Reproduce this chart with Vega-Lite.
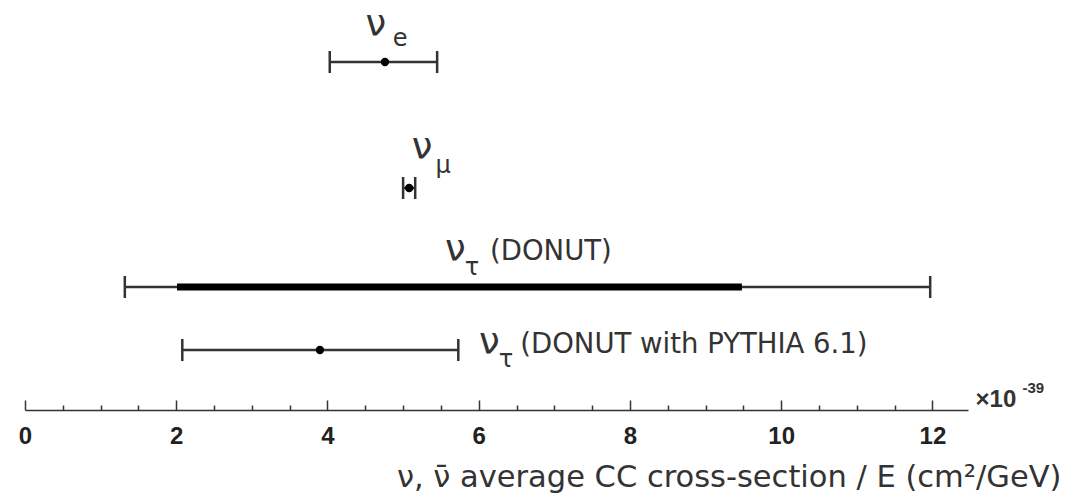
{
  "$schema": "https://vega.github.io/schema/vega-lite/v6.json",
  "autosize": {"type": "none"},
  "padding": {"left": 25, "right": 113, "top": 0, "bottom": 90},
  "width": 943,
  "height": 410,
  "background": "white",
  "config": {
    "view": {"stroke": null},
    "font": "DejaVu Sans"
  },
  "resolve": {"axis": {"x": "independent"}},
  "datasets": {
    "measurements": [
      {"name": "nu_e", "level": 348, "center": 4.76, "lo": 4.03, "hi": 5.45},
      {"name": "nu_mu", "level": 222, "center": 5.08, "lo": 5.0, "hi": 5.16},
      {"name": "nu_tau DONUT", "level": 123, "lo": 1.32, "hi": 11.97, "inner_lo": 2.01, "inner_hi": 9.48},
      {"name": "nu_tau DONUT with PYTHIA 6.1", "level": 60, "center": 3.9, "lo": 2.08, "hi": 5.73}
    ],
    "labels": [
      {"kind": "nu", "text": "ν", "x": 4.64, "y": 385},
      {"kind": "sub", "text": "e", "x": 4.96, "y": 371},
      {"kind": "nu", "text": "ν", "x": 5.25, "y": 262},
      {"kind": "sub", "text": "μ", "x": 5.53, "y": 244},
      {"kind": "nu", "text": "ν", "x": 5.69, "y": 160},
      {"kind": "sub", "text": "τ", "x": 5.91, "y": 142},
      {"kind": "note", "text": "(DONUT)", "x": 6.15, "y": 158},
      {"kind": "nu", "text": "ν", "x": 6.14, "y": 67},
      {"kind": "sub", "text": "τ", "x": 6.36, "y": 50},
      {"kind": "note", "text": "(DONUT with PYTHIA 6.1)", "x": 6.55, "y": 65},
      {"kind": "mult", "text": "×10", "x": 12.57, "y": 10},
      {"kind": "exp", "text": "-39", "x": 13.19, "y": 22}
    ]
  },
  "layer": [
    {
      "mark": {"type": "rule", "strokeDash": [2, 2], "color": "#777", "strokeWidth": 1.5},
      "encoding": {
        "x": {
          "datum": 5.05,
          "type": "quantitative",
          "scale": {"domain": [0, 12.47], "nice": false, "zero": false},
          "axis": {
            "orient": "bottom",
            "values": [0, 2, 4, 6, 8, 10, 12],
            "format": "d",
            "labelFont": "Liberation Sans",
            "labelFontWeight": "bold",
            "labelFontSize": 24,
            "labelColor": "#222",
            "labelPadding": 14,
            "labelFlush": false,
            "labelOverlap": false,
            "ticks": false,
            "tickSize": 0,
            "domainColor": "#333",
            "domainWidth": 1.5,
            "grid": false,
            "title": "ν, ν̄ average CC cross-section / E (cm²/GeV)",
            "titleFont": "DejaVu Sans",
            "titleFontWeight": "normal",
            "titleFontSize": 30.5,
            "titleColor": "#333",
            "titleAlign": "right",
            "titleAnchor": "end",
            "titleX": 1036,
            "titleY": 76,
            "titleBaseline": "alphabetic"
          }
        }
      }
    },
    {
      "data": {"name": "measurements"},
      "mark": {"type": "rule", "color": "#333", "strokeWidth": 2.5},
      "encoding": {
        "x": {
          "field": "lo",
          "type": "quantitative",
          "axis": {
            "orient": "top",
            "offset": -410,
            "values": [0, 0.5, 1, 1.5, 2, 2.5, 3, 3.5, 4, 4.5, 5, 5.5, 6, 6.5, 7, 7.5, 8, 8.5, 9, 9.5, 10, 10.5, 11, 11.5, 12],
            "labels": false,
            "domain": false,
            "grid": false,
            "ticks": true,
            "tickColor": "#333",
            "tickWidth": 1.5,
            "tickSize": {"condition": {"test": "datum.value % 2 === 0", "value": 10}, "value": 5},
            "title": null
          }
        },
        "x2": {"field": "hi"},
        "y": {"field": "level", "type": "quantitative", "scale": {"domain": [0, 410], "nice": false}, "axis": null}
      }
    },
    {
      "data": {"name": "measurements"},
      "transform": [{"filter": "isValid(datum.inner_lo)"}],
      "mark": {"type": "rule", "color": "#000", "strokeWidth": 7},
      "encoding": {
        "x": {"field": "inner_lo", "type": "quantitative", "axis": null},
        "x2": {"field": "inner_hi"},
        "y": {"field": "level", "type": "quantitative"}
      }
    },
    {
      "data": {"name": "measurements"},
      "mark": {"type": "rule", "color": "#333", "strokeWidth": 2.5, "yOffset": -11, "y2Offset": 11},
      "encoding": {
        "x": {"field": "lo", "type": "quantitative", "axis": null},
        "y": {"field": "level", "type": "quantitative"},
        "y2": {"field": "level"}
      }
    },
    {
      "data": {"name": "measurements"},
      "mark": {"type": "rule", "color": "#333", "strokeWidth": 2.5, "yOffset": -11, "y2Offset": 11},
      "encoding": {
        "x": {"field": "hi", "type": "quantitative", "axis": null},
        "y": {"field": "level", "type": "quantitative"},
        "y2": {"field": "level"}
      }
    },
    {
      "data": {"name": "measurements"},
      "transform": [{"filter": "isValid(datum.center)"}],
      "mark": {"type": "point", "filled": true, "color": "#000", "size": 70, "opacity": 1},
      "encoding": {
        "x": {"field": "center", "type": "quantitative", "axis": null},
        "y": {"field": "level", "type": "quantitative"}
      }
    },
    {
      "data": {"name": "labels"},
      "transform": [{"filter": "datum.kind === 'nu'"}],
      "mark": {"type": "text", "font": "DejaVu Sans", "fontSize": 37, "color": "#333", "baseline": "middle", "align": "center", "clip": false},
      "encoding": {
        "x": {"field": "x", "type": "quantitative", "axis": null},
        "y": {"field": "y", "type": "quantitative"},
        "text": {"field": "text"}
      }
    },
    {
      "data": {"name": "labels"},
      "transform": [{"filter": "datum.kind === 'sub'"}],
      "mark": {"type": "text", "font": "DejaVu Sans", "fontSize": 24, "color": "#333", "baseline": "middle", "align": "center"},
      "encoding": {
        "x": {"field": "x", "type": "quantitative", "axis": null},
        "y": {"field": "y", "type": "quantitative"},
        "text": {"field": "text"}
      }
    },
    {
      "data": {"name": "labels"},
      "transform": [{"filter": "datum.kind === 'note'"}],
      "mark": {"type": "text", "font": "DejaVu Sans", "fontSize": 27.5, "color": "#333", "baseline": "middle", "align": "left"},
      "encoding": {
        "x": {"field": "x", "type": "quantitative", "axis": null},
        "y": {"field": "y", "type": "quantitative"},
        "text": {"field": "text"}
      }
    },
    {
      "data": {"name": "labels"},
      "transform": [{"filter": "datum.kind === 'mult'"}],
      "mark": {"type": "text", "font": "Liberation Sans", "fontSize": 24, "fontWeight": "bold", "color": "#333", "baseline": "middle", "align": "left", "clip": false},
      "encoding": {
        "x": {"field": "x", "type": "quantitative", "axis": null},
        "y": {"field": "y", "type": "quantitative"},
        "text": {"field": "text"}
      }
    },
    {
      "data": {"name": "labels"},
      "transform": [{"filter": "datum.kind === 'exp'"}],
      "mark": {"type": "text", "font": "Liberation Sans", "fontSize": 15, "fontWeight": "bold", "color": "#333", "baseline": "middle", "align": "left", "clip": false},
      "encoding": {
        "x": {"field": "x", "type": "quantitative", "axis": null},
        "y": {"field": "y", "type": "quantitative"},
        "text": {"field": "text"}
      }
    }
  ]
}
